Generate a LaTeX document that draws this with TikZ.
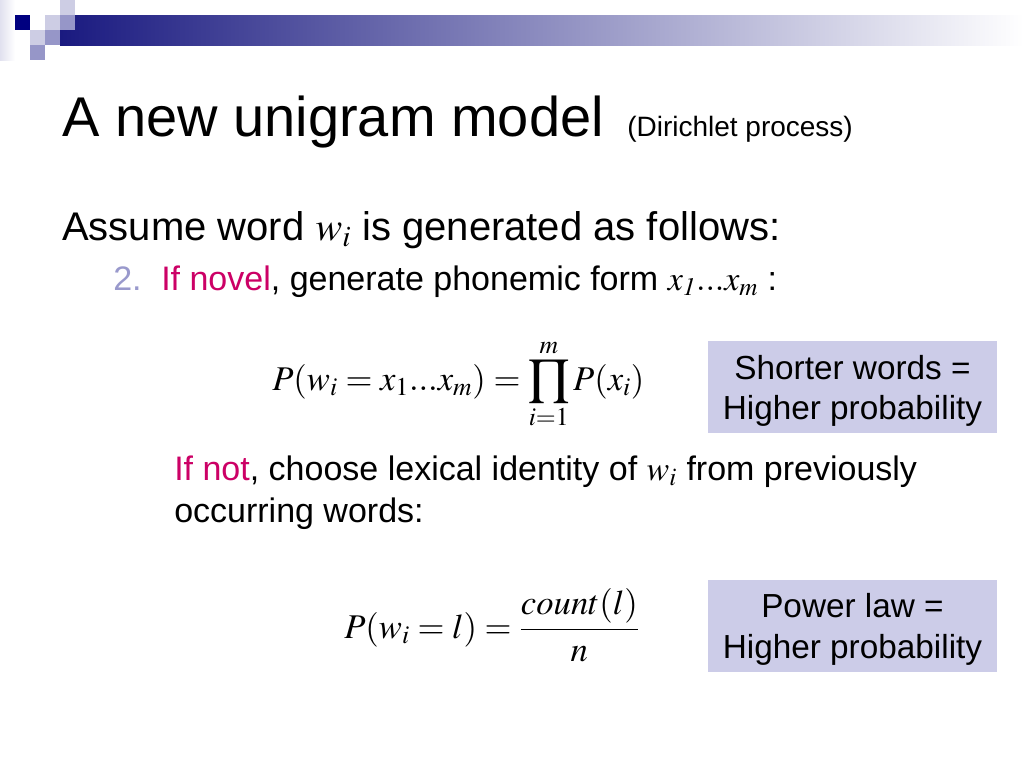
\documentclass[tikz,border=0pt]{standalone}
\usepackage{mathptmx}
\usepackage[no-math]{fontspec}
\setmainfont{Liberation Sans}
\definecolor{barnavy}{RGB}{26,26,128}
\definecolor{sqdark}{RGB}{0,0,128}
\definecolor{sqmid}{RGB}{150,150,200}
\definecolor{sqlight}{RGB}{205,205,228}
\definecolor{notebg}{RGB}{204,204,232}
\definecolor{novel}{RGB}{204,0,102}
\definecolor{bulletc}{RGB}{153,153,204}
\tikzset{
  txt/.style={anchor=base west, inner sep=0pt},
  note/.style={fill=notebg, inner sep=0pt,
    minimum width=216.75pt, minimum height=69pt},
  notetext/.style={inner sep=0pt, align=center,
    font=\fontsize{25}{30.5}\selectfont}
}
\begin{document}
\begin{tikzpicture}[x=0.75pt,y=-0.75pt]
\useasboundingbox (0,0) rectangle (1024,768);
\fill[white] (0,0) rectangle (1024,768);

% header bar and squares
\shade[left color=barnavy, right color=white] (60,15) rectangle (1024,45);
\shade[left color=sqlight!60, right color=white] (0,0) rectangle (15,60);
\fill[sqdark] (15,15) rectangle (30,30);
\fill[sqlight] (45,15) rectangle (60,30);
\fill[sqlight] (60,0) rectangle (75,15);
\fill[sqmid] (60,15) rectangle (75,30);
\fill[sqlight] (30,30) rectangle (45,45);
\fill[sqmid] (45,30) rectangle (60,45);
\fill[sqmid] (30,45) rectangle (45,60);

% title
\node[txt, font=\fontsize{42}{50}\selectfont] (title) at (62,136) {A new unigram model};
\node[txt, font=\fontsize{21}{25}\selectfont] (sub) at (627,136) {(Dirichlet process)};

% body
\node[txt, font=\fontsize{30}{36}\selectfont] (assume) at (62,240) {Assume word $w_i$ is generated as follows:};
\node[txt, font=\fontsize{25.5}{31}\selectfont, text=bulletc] (num) at (113,290) {2.};
\node[txt, font=\fontsize{25.5}{31}\selectfont] (novel) at (161,290) {\textcolor{novel}{If novel}, generate phonemic form $x_{\mathit{1}}...x_m$ :};

\node[txt, font=\fontsize{26}{32}\selectfont] (eqone) at (272,390) {$\displaystyle P(w_i = x_1...x_m) = \prod_{i=1}^{m} P(x_i)$};
\node[note] (short) at (852.5,387) {};
\node[notetext] (shorttext) at ([yshift=-3pt]short.center) {Shorter words =\\Higher probability};

\node[txt, font=\fontsize{25.5}{31.5}\selectfont, align=left] (notnovel) at (174,522) {\textcolor{novel}{If not}, choose lexical identity of $w_i$ from previously\\occurring words:};

\node[txt, font=\fontsize{26}{32}\selectfont] (eqtwo) at (344,638) {$\displaystyle P(w_i = l) = \frac{count(l)}{n}$};
\node[note] (power) at (852.5,625.5) {};
\node[notetext] (powertext) at ([yshift=-3pt]power.center) {Power law =\\Higher probability};
\end{tikzpicture}
\end{document}
